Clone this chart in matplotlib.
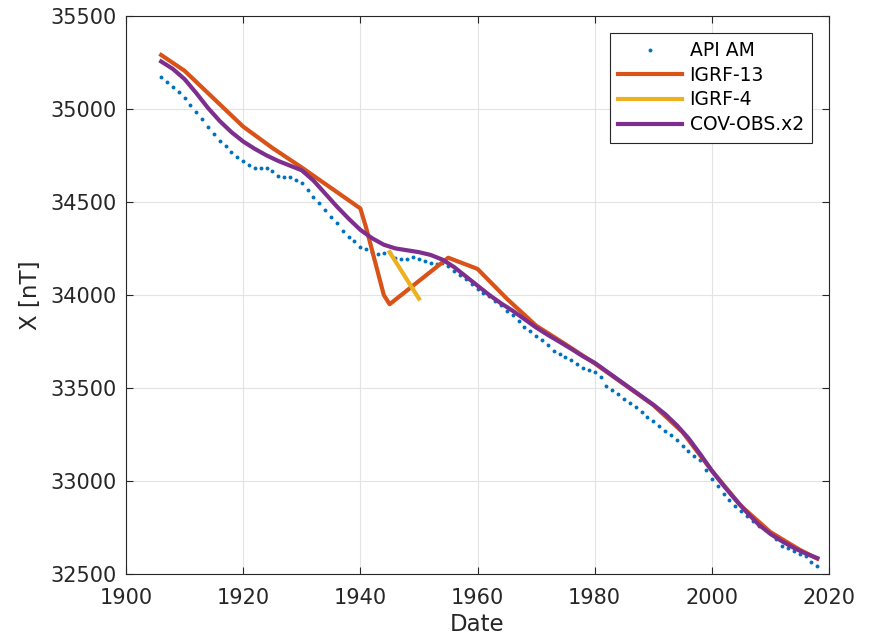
import matplotlib
matplotlib.use("Agg")
import matplotlib.pyplot as plt
import numpy as np

# API AM annual means (nT)
api_years = list(range(1906, 2019))
api_x = [
    35170, 35145, 35120, 35090, 35060, 35020, 34985, 34945, 34905, 34865,
    34830, 34800, 34770, 34740, 34720, 34700, 34682, 34680, 34683, 34665,
    34638, 34634, 34636, 34620, 34600, 34565, 34525, 34495, 34455, 34420,
    34385, 34345, 34310, 34290, 34260, 34245, 34230, 34222, 34225, 34228,
    34200, 34192, 34195, 34205, 34195, 34180, 34170, 34168, 34170, 34158,
    34130, 34105, 34085, 34060, 34030, 34010, 33993, 33970, 33945, 33915,
    33890, 33860, 33830, 33805, 33780, 33760, 33730, 33700, 33680, 33665,
    33650, 33630, 33605, 33595, 33588, 33560, 33510, 33490, 33465, 33440,
    33418, 33395, 33370, 33345, 33320, 33295, 33270, 33248, 33222, 33190,
    33160, 33135, 33110, 33060, 33010, 32975, 32930, 32895, 32865, 32840,
    32810, 32785, 32760, 32740, 32722, 32690, 32650, 32640, 32625, 32605,
    32595, 32565, 32545,
]

# IGRF-13
igrf13_years = [1906, 1910, 1915, 1920, 1925, 1930, 1935, 1940, 1941, 1944,
                1945, 1950, 1955, 1960, 1965, 1970, 1975, 1980, 1985, 1990,
                1995, 2000, 2005, 2010, 2015, 2018]
igrf13_x = [35290, 35205, 35055, 34905, 34790, 34685, 34575, 34465, 34360, 34000,
            33950, 34075, 34200, 34140, 33980, 33835, 33735, 33632, 33520, 33408,
            33262, 33055, 32865, 32725, 32630, 32582]

# IGRF-4
igrf4_years = [1945, 1950]
igrf4_x = [34230, 33980]

# COV-OBS.x2
cov_years = list(range(1906, 2019, 2))
cov_x = [
    35255, 35215, 35160, 35085, 35005, 34935, 34875, 34825, 34785, 34750,
    34720, 34695, 34670, 34615, 34545, 34475, 34410, 34350, 34305, 34270,
    34250, 34240, 34230, 34215, 34190, 34150, 34100, 34050, 34000, 33955,
    33915, 33870, 33825, 33785, 33748, 33710, 33670, 33635, 33590, 33545,
    33500, 33455, 33410, 33360, 33300, 33230, 33145, 33055, 32975, 32900,
    32830, 32765, 32715, 32675, 32640, 32610, 32585,
]

xticks = [1900, 1920, 1940, 1960, 1980, 2000, 2020]
yticks = [32500, 33000, 33500, 34000, 34500, 35000, 35500]

BLUE = "#0072BD"
ORANGE = "#D95319"
YELLOW = "#EDB120"
PURPLE = "#7E2F8E"
DARK = "#262626"


def main():
    plt.rcParams["font.family"] = "DejaVu Sans"
    fig = plt.figure(figsize=(8.69, 6.37), dpi=100)
    ax = fig.add_axes([0.145, 0.099, 0.809, 0.876])

    ax.plot(api_years, api_x, "o", color=BLUE, markersize=2.8,
            markeredgewidth=0, label="API AM")
    ax.plot(igrf13_years, igrf13_x, "-", color=ORANGE, lw=3.0, label="IGRF-13")
    ax.plot(igrf4_years, igrf4_x, "-", color=YELLOW, lw=3.0, label="IGRF-4")
    ax.plot(cov_years, cov_x, "-", color=PURPLE, lw=3.0, label="COV-OBS.x2")

    ax.set_xlim(1900, 2020)
    ax.set_ylim(32500, 35500)
    ax.set_xticks(xticks)
    ax.set_yticks(yticks)
    ax.grid(True, color="#e3e3e3", lw=0.8)
    ax.set_axisbelow(True)
    ax.tick_params(direction="in", top=True, right=True, length=5,
                   labelsize=15, colors=DARK)
    ax.tick_params(axis="x", pad=10)
    ax.tick_params(axis="y", pad=7)
    for s in ax.spines.values():
        s.set_color(DARK)
        s.set_linewidth(0.8)

    ax.set_xlabel("Date", fontsize=16.5, color=DARK, labelpad=4)
    ax.set_ylabel("X [nT]", fontsize=16.5, color=DARK, labelpad=6)

    leg = ax.legend(loc="upper right", fontsize=13.5, numpoints=1,
                    handlelength=3.4, fancybox=False, framealpha=1,
                    borderaxespad=0.9, borderpad=0.45, labelspacing=0.3,
                    handletextpad=0.4)
    leg.get_frame().set_edgecolor(DARK)
    leg.get_frame().set_linewidth(0.8)

    fig.savefig("out.png", dpi=100)


if __name__ == "__main__":
    main()
